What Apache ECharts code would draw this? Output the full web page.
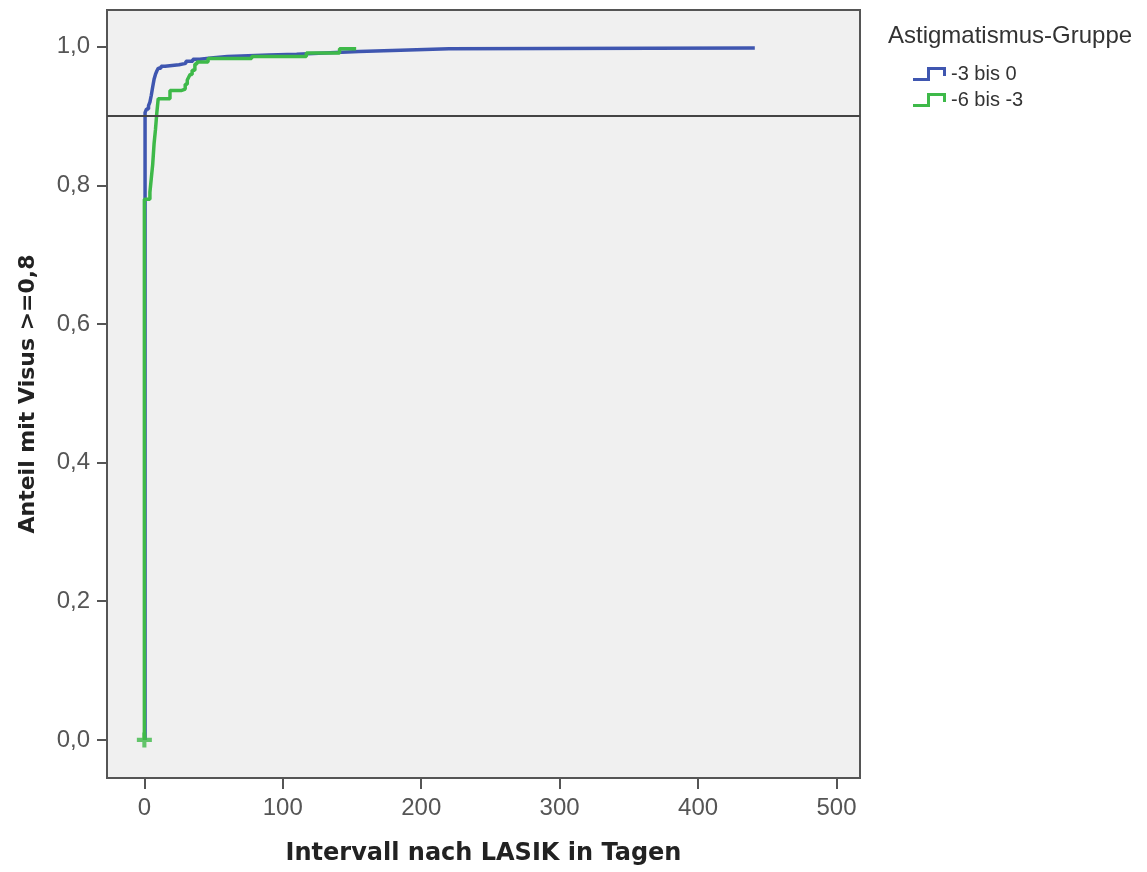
<!DOCTYPE html>
<html>
<head>
<meta charset="utf-8">
<script src="https://cdn.jsdelivr.net/npm/echarts@6/dist/echarts.min.js"></script>
<style>
html,body{margin:0;padding:0;background:#fff;}
#chart{width:1147px;height:872px;}
</style>
</head>
<body>
<div id="chart"></div>
<script>
// ---- data ----
const seriesNames = ['-3 bis 0', '-6 bis -3'];
const blueDays = [0.5, 0.5, 1.5, 3, 4, 5, 6, 7, 8, 9, 10, 12, 15, 20, 25, 30, 35, 40, 50, 60, 75, 90, 110, 130, 155, 185, 220, 441];
const blueVals = [0, 0.905, 0.91, 0.915, 0.92, 0.93, 0.942, 0.953, 0.96, 0.965, 0.969, 0.972, 0.973, 0.974, 0.976, 0.979, 0.982, 0.984, 0.986, 0.987, 0.988, 0.989, 0.991, 0.993, 0.995, 0.997, 0.998, 0.998];
const greenDays = [0, 0, 2, 4, 5, 6, 7, 8, 9, 10, 18.5, 27, 29.5, 31, 32, 33, 34.5, 36.5, 38, 46, 77.5, 117, 141, 153];
const greenVals = [0, 0.78, 0.78, 0.79, 0.81, 0.83, 0.86, 0.88, 0.905, 0.925, 0.937, 0.939, 0.946, 0.952, 0.956, 0.96, 0.966, 0.975, 0.978, 0.983, 0.986, 0.991, 0.997, 0.997];
const censorGreen = [[0, 0]];
const refLine = 0.9;
const xTicks = [0, 100, 200, 300, 400, 500];
const yTicks = [0, 0.2, 0.4, 0.6, 0.8, 1.0];
const xTitle = 'Intervall nach LASIK in Tagen';
const yTitle = 'Anteil mit Visus >=0,8';
const legendTitle = 'Astigmatismus-Gruppe';

const zip = (a, b) => a.map((v, i) => [v, b[i]]);
const BLUE = '#3f56b0';
const GREEN = '#3eb949';
const stepIcon = 'path://M0,11 L14,11 L14,0 L33,0 L33,9 L30,9 L30,3 L17,3 L17,14 L0,14 Z';
const plusIcon = 'path://M4,0 L7,0 L7,4 L11,4 L11,7 L7,7 L7,11 L4,11 L4,7 L0,7 L0,4 L4,4 Z';

const chart = echarts.init(document.getElementById('chart'), null, {renderer: 'canvas'});
chart.setOption({
  animation: false,
  backgroundColor: '#ffffff',
  title: {
    text: legendTitle, left: 888, top: 24, padding: 0,
    textStyle: {fontFamily: 'Liberation Sans', fontSize: 24, fontWeight: 'normal', color: '#333'}
  },
  legend: {
    data: seriesNames, orient: 'vertical', left: 913, top: 64, padding: 0,
    itemWidth: 33, itemHeight: 14, itemGap: 6, icon: stepIcon,
    textStyle: {fontFamily: 'Liberation Sans', fontSize: 20, color: '#333'}
  },
  grid: {
    left: 107, top: 10, width: 753, height: 768,
    show: true, backgroundColor: '#f0f0f0', borderColor: '#555', borderWidth: 2
  },
  xAxis: {
    type: 'value', min: -27, max: 517,
    name: xTitle, nameLocation: 'middle', nameGap: 64,
    nameTextStyle: {fontFamily: 'DejaVu Sans', fontWeight: 'bold', fontSize: 24, color: '#222'},
    axisLine: {show: true, onZero: false, lineStyle: {color: '#555', width: 2}},
    axisTick: {show: true, customValues: xTicks, length: 11, lineStyle: {color: '#555', width: 2}},
    axisLabel: {customValues: xTicks, margin: 18, fontFamily: 'Liberation Sans', fontSize: 24, color: '#555'},
    splitLine: {show: false}
  },
  yAxis: {
    type: 'value', min: -0.055, max: 1.053,
    name: yTitle, nameLocation: 'middle', nameGap: 68,
    nameTextStyle: {fontFamily: 'DejaVu Sans', fontWeight: 'bold', fontSize: 22, color: '#222'},
    axisLine: {show: true, onZero: false, lineStyle: {color: '#555', width: 2}},
    axisTick: {show: true, customValues: yTicks, length: 10, lineStyle: {color: '#555', width: 2}},
    axisLabel: {
      customValues: yTicks, margin: 17, fontFamily: 'Liberation Sans', fontSize: 24, color: '#555',
      formatter: v => v.toFixed(1).replace('.', ',')
    },
    splitLine: {show: false}
  },
  series: [
    {
      name: seriesNames[0], type: 'line', step: 'end', symbol: 'none',
      data: zip(blueDays, blueVals),
      lineStyle: {color: BLUE, width: 3.5}, itemStyle: {color: BLUE},
      markLine: {
        silent: true, symbol: ['none', 'none'], label: {show: false},
        lineStyle: {color: '#444', width: 2, type: 'solid'},
        data: [{yAxis: refLine}]
      },
      z: 2
    },
    {
      name: seriesNames[1], type: 'line', step: 'end', symbol: 'none',
      data: zip(greenDays, greenVals),
      lineStyle: {color: GREEN, width: 3.5}, itemStyle: {color: GREEN},
      z: 3
    },
    {
      name: 'censor', type: 'scatter', symbol: plusIcon, symbolSize: 15,
      data: censorGreen, itemStyle: {color: GREEN}, z: 4
    }
  ]
});
</script>
</body>
</html>
